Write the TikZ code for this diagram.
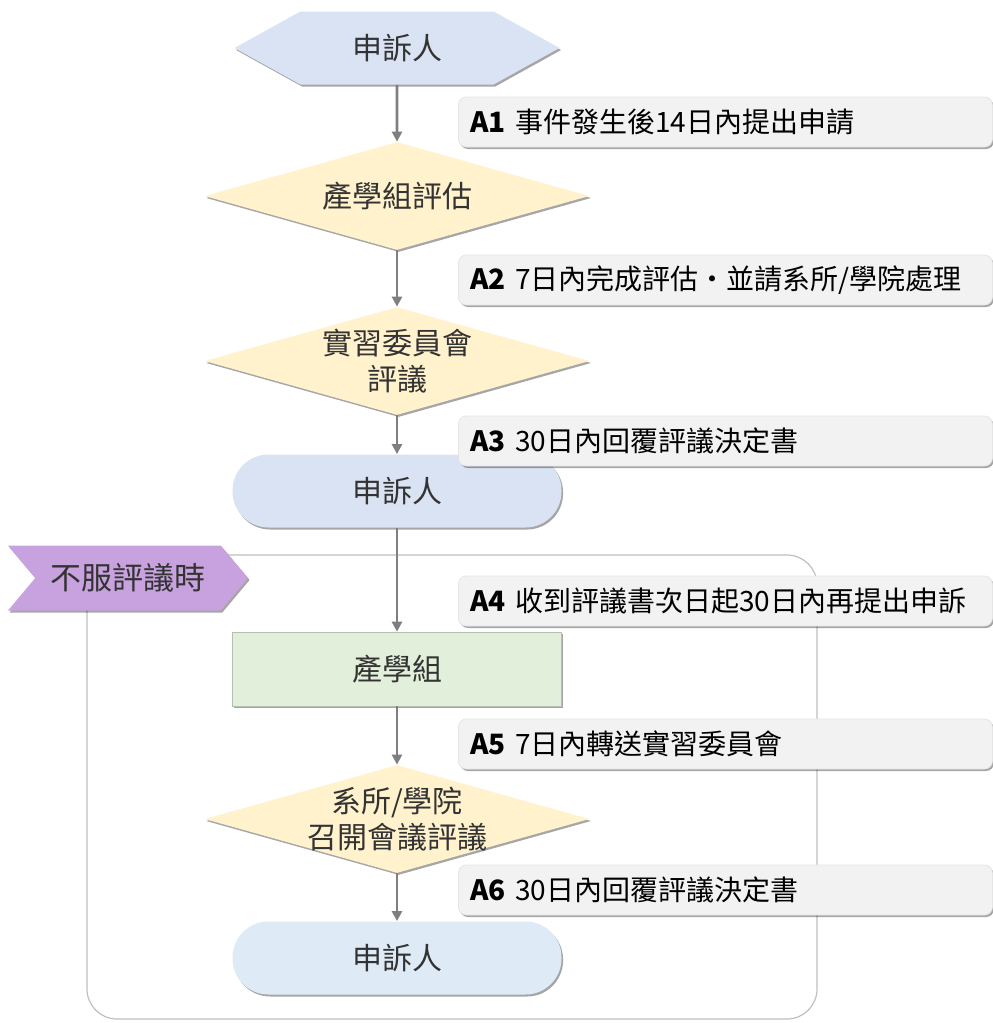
\documentclass[tikz,border=0pt]{standalone}
\usepackage{fontspec}
\setmainfont{Noto Sans CJK TC}
\usetikzlibrary{shapes.geometric,shapes.symbols,shadows,arrows.meta}
\definecolor{hexblue}{HTML}{DAE3F3}
\definecolor{endblue}{HTML}{DEEBF7}
\definecolor{decyellow}{HTML}{FFF2CC}
\definecolor{procgreen}{HTML}{E2EFDA}
\definecolor{tagpurple}{HTML}{C8A2DE}
\definecolor{notegray}{HTML}{F2F2F2}
\definecolor{flowgray}{HTML}{7F7F7F}
\begin{document}
\begin{tikzpicture}[x=0.5pt, y=-0.5pt,
        every node/.style={font=\fontsize{15}{18}\selectfont, text=black!80},
        sh/.style={drop shadow={shadow xshift=0.8pt, shadow yshift=-1pt, fill=black, opacity=0.35}},
        hexa/.style={signal, signal to=west and east, signal pointer angle=58, fill=hexblue,
            minimum width=162.5pt, minimum height=36.5pt, inner sep=0pt, sh},
        decide/.style={diamond, aspect=3.5, fill=decyellow, minimum width=192.5pt,
            minimum height=54pt, inner sep=0pt, align=center, sh},
        term/.style={rectangle, rounded corners=18pt, fill=hexblue, minimum width=164.5pt,
            minimum height=36.5pt, sh},
        proc/.style={rectangle, fill=procgreen, draw=procgreen!80!black, line width=0.3pt,
            minimum width=164.5pt, minimum height=37pt, sh},
        note/.style={rectangle, rounded corners=4pt, fill=notegray, draw=black!10, anchor=west,
            minimum height=25pt, text width=255pt, inner xsep=6pt, align=left, text=black, sh,
            font=\fontsize{14}{16}\selectfont},
        tagbox/.style={signal, signal to=east, signal from=west, signal pointer angle=100,
            fill=tagpurple, minimum width=120pt, minimum height=32.5pt, inner sep=0pt, sh,
            font=\fontsize{15.5}{18}\selectfont},
        arr/.style={-{Triangle[width=5pt,length=5pt]}, line width=1.3pt, draw=flowgray}]
        \useasboundingbox (0,0) rectangle (992,1023);

        % frame for the second round
        \draw[black!25, line width=0.6pt, rounded corners=15pt] (87,555) rectangle (817,1019);

        \node[hexa] (start) at (397,48) {申訴人};
        \node[decide] (eval) at (397,196) {產學組評估};
        \node[decide] (comm) at (397,361) {實習委員會\\評議};
        \node[term] (reply) at (397,491) {申訴人};
        \node[tagbox] (appeal) at (128,578) {不服評議時};
        \node[proc] (office) at (397,669) {產學組};
        \node[decide, inner sep=-2.5pt] (dept) at (397,819) {系所/學院\\召開會議評議};
        \node[term, fill=endblue] (final) at (397,958) {申訴人};

        \node[note] (a1) at (458,122) {\textbf{A1} 事件發生後14日內提出申請};
        \node[note] (a2) at (458,280) {\textbf{A2} 7日內完成評估・並請系所/學院處理};
        \node[note] (a3) at (458,441) {\textbf{A3} 30日內回覆評議決定書};
        \node[note] (a4) at (458,601) {\textbf{A4} 收到評議書次日起30日內再提出申訴};
        \node[note] (a5) at (458,744) {\textbf{A5} 7日內轉送實習委員會};
        \node[note] (a6) at (458,890) {\textbf{A6} 30日內回覆評議決定書};

        \draw[arr] (start) -- (eval);
        \draw[arr] (eval) -- (comm);
        \draw[arr] (comm) -- (reply);
        \draw[arr] (reply) -- (office);
        \draw[arr] (office) -- (dept);
        \draw[arr] (dept) -- (final);
    \end{tikzpicture}
\end{document}
